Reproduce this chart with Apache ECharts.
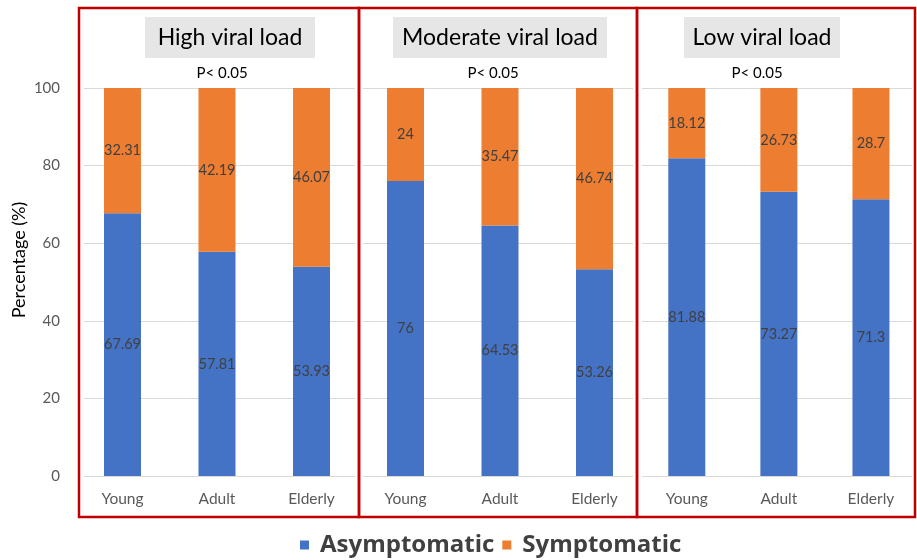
<!DOCTYPE html>
<html>
<head>
<meta charset="utf-8">
<script src="https://cdn.jsdelivr.net/npm/echarts@6/dist/echarts.min.js"></script>
<style>
html,body{margin:0;padding:0;background:#fff;}
#chart{width:917px;height:560px;}
</style>
</head>
<body>
<div id="chart"></div>
<script>
var categories = ['Young', 'Adult', 'Elderly'];
var panelTitles = ['High viral load', 'Moderate viral load', 'Low viral load'];
var pText = 'P< 0.05';
var yTicks = [0, 20, 40, 60, 80, 100];
var highAsym = [67.69, 57.81, 53.93];
var highSym = [32.31, 42.19, 46.07];
var modAsym = [76, 64.53, 53.26];
var modSym = [24, 35.47, 46.74];
var lowAsym = [81.88, 73.27, 71.3];
var lowSym = [18.12, 26.73, 28.7];

var asymSets = [highAsym, modAsym, lowAsym];
var symSets = [highSym, modSym, lowSym];

var BLUE = '#4472C4', ORANGE = '#ED7D31';
var FONT = 'Lato, "Open Sans", sans-serif';
var LEGFONT = '"Open Sans", Lato, sans-serif';

var chart = echarts.init(document.getElementById('chart'), null, {renderer: 'canvas'});

var gridTop = 88, gridH = 388;
var barGridLeft = [75.25, 358.25, 640.75];
var barGridW = 283.5;
var lineGrids = [[84, 271], [363, 270], [642, 270]];
var borders = [[79, 280], [359, 278], [637, 278]];
var titleBoxes = [[145, 170], [393, 214], [684, 156]];
var pCenters = [222, 493, 757];

var grids = [], xAxes = [], yAxes = [], series = [];
for (var i = 0; i < 3; i++) {
  grids.push({left: barGridLeft[i], top: gridTop, width: barGridW, height: gridH, containLabel: false});
  xAxes.push({
    type: 'category', gridIndex: i, data: categories,
    axisLine: {show: false}, axisTick: {show: false},
    axisLabel: {color: '#595959', fontSize: 15.5, fontFamily: FONT, margin: 15}
  });
  yAxes.push({
    type: 'value', gridIndex: i, min: 0, max: 100, interval: 20,
    axisLabel: {show: false}, splitLine: {show: false}, axisLine: {show: false}, axisTick: {show: false}
  });
}
for (var j = 0; j < 3; j++) {
  grids.push({left: lineGrids[j][0], top: gridTop, width: lineGrids[j][1], height: gridH});
  xAxes.push({type: 'value', gridIndex: 3 + j, min: 0, max: 1, show: false});
  yAxes.push({
    type: 'value', gridIndex: 3 + j, min: yTicks[0], max: yTicks[yTicks.length - 1], interval: 20,
    axisLine: {show: false}, axisTick: {show: false},
    axisLabel: {show: j === 0, color: '#595959', fontSize: 15, fontFamily: FONT, margin: 24},
    splitLine: {show: true, lineStyle: {color: '#d9d9d9', width: 1}}
  });
}

var labelStyle = {show: true, position: 'inside', color: '#404040', fontSize: 14.5, fontFamily: FONT};
for (var k = 0; k < 3; k++) {
  series.push({
    name: 'Asymptomatic', type: 'bar', stack: 's' + k, xAxisIndex: k, yAxisIndex: k,
    data: asymSets[k], barWidth: 37, itemStyle: {color: BLUE}, label: labelStyle, z: 5
  });
  series.push({
    name: 'Symptomatic', type: 'bar', stack: 's' + k, xAxisIndex: k, yAxisIndex: k,
    data: symSets[k], barWidth: 37, itemStyle: {color: ORANGE}, label: labelStyle, z: 5
  });
}

var graphics = [];
for (var m = 0; m < 3; m++) {
  graphics.push({
    type: 'rect', left: titleBoxes[m][0], top: 17, z: 10,
    shape: {width: titleBoxes[m][1], height: 41},
    style: {fill: '#e7e6e6'}
  });
  graphics.push({
    type: 'text', x: titleBoxes[m][0] + titleBoxes[m][1] / 2, y: 38, z: 11,
    style: {text: panelTitles[m], fill: '#000', font: '23px ' + FONT, textAlign: 'center', textVerticalAlign: 'middle'}
  });
  graphics.push({
    type: 'text', x: pCenters[m], y: 73, z: 11,
    style: {text: pText, fill: '#000', font: '15px ' + FONT, textAlign: 'center', textVerticalAlign: 'middle'}
  });
}
for (var n = 0; n < 3; n++) {
  graphics.push({
    type: 'rect', z: 20,
    shape: {x: borders[n][0], y: 8, width: borders[n][1], height: 509},
    style: {fill: 'none', stroke: '#c00000', lineWidth: 2.5}
  });
}
graphics.push({
  type: 'text', x: 19, y: 260, rotation: Math.PI / 2, z: 11,
  style: {text: 'Percentage (%)', fill: '#000', font: '18px ' + FONT, textAlign: 'center', textVerticalAlign: 'middle'}
});

chart.setOption({
  animation: false,
  grid: grids,
  xAxis: xAxes,
  yAxis: yAxes,
  series: series,
  legend: {
    data: ['Asymptomatic', 'Symptomatic'],
    left: 295, top: 528,
    icon: 'rect', itemWidth: 9, itemHeight: 9, itemGap: 8,
    textStyle: {fontSize: 24, fontWeight: 'bold', color: '#404040', fontFamily: LEGFONT, padding: [0, 0, 0, 6]}
  },
  graphic: graphics
});
</script>
</body>
</html>
